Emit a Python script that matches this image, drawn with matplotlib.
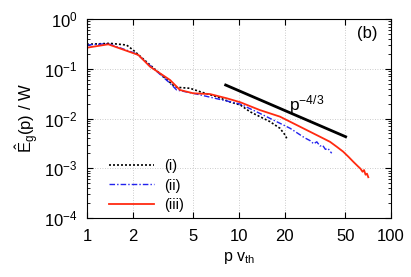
import matplotlib
matplotlib.use("Agg")
import matplotlib.pyplot as plt
from matplotlib.ticker import FixedLocator, LogLocator, NullFormatter

plt.rcParams['font.family'] = ['Liberation Sans', 'DejaVu Sans']
plt.rcParams['mathtext.fontset'] = 'custom'
plt.rcParams['mathtext.rm'] = 'Liberation Sans'
plt.rcParams['mathtext.it'] = 'Liberation Sans:italic'
plt.rcParams['mathtext.bf'] = 'Liberation Sans:bold'

# (i) black dotted
x_i = [1.0, 1.42, 1.82, 2.01, 2.6, 3.68, 3.89, 4.76, 5.54, 7.13, 8.73, 10.2, 11.8, 16.0, 18.6, 20.1, 20.6]
y_i = [0.31, 0.324, 0.30, 0.238, 0.119, 0.047, 0.0424, 0.0405, 0.0346, 0.0274, 0.0215, 0.0187, 0.0137, 0.00863, 0.00635, 0.00466, 0.0040]
# (ii) blue dash-dot
x_ii = [1.0, 1.38, 2.12, 2.8, 3.52, 3.89, 5.0, 8.3, 10.2, 13.7, 21.7, 27.0, 29.3, 31.0, 32.5, 34.1, 35.5, 37.0, 38.5, 40.7]
y_ii = [0.30, 0.32, 0.20, 0.095, 0.051, 0.0374, 0.0321, 0.0225, 0.0195, 0.0127, 0.00635, 0.0041, 0.0036, 0.0031, 0.0034, 0.0028, 0.0029, 0.0024, 0.0025, 0.0020]
# (iii) red solid
x_iii = [1.0, 1.38, 2.18, 2.6, 3.52, 4.09, 5.0, 6.44, 8.3, 10.2, 13.7, 18.6, 25.2, 34.1, 39.7, 44.0, 48.5, 52.5, 56.5, 60.5, 63.0, 65.0, 66.5, 68.0, 69.5, 70.9]
y_iii = [0.265, 0.31, 0.189, 0.11, 0.0594, 0.0374, 0.0321, 0.031, 0.0255, 0.0212, 0.0148, 0.0109, 0.00684, 0.0043, 0.0034, 0.0027, 0.00215, 0.0017, 0.00135, 0.0011, 0.00098, 0.00085, 0.00092, 0.00074, 0.00078, 0.00066]
# power-law guide p^-4/3
x_pl = [8.17, 50.3]
y_pl = [0.0471, 0.0043]

xticks = [1, 2, 5, 10, 20, 50, 100]
xticklabels = ['1', '2', '5', '10', '20', '50', '100']
yticks = [1e-4, 1e-3, 1e-2, 1e-1, 1e0]
yticklabels = [r'$10^{-4}$', r'$10^{-3}$', r'$10^{-2}$', r'$10^{-1}$', r'$10^{0}$']
labels = ['(i)', '(ii)', '(iii)']

fig = plt.figure(figsize=(4.11, 2.77), dpi=100)
ax = fig.add_axes([87/411, 1-218/277, (391-87)/411, (218-19)/277])
ax.set_xscale('log')
ax.set_yscale('log')
ax.set_xlim(1, 100)
ax.set_ylim(1e-4, 1)

ax.plot(x_i, y_i, color='black', linestyle=(0, (1.2, 1.2)), lw=1.2, label=labels[0])
ax.plot(x_ii, y_ii, color='#2222ee', linestyle=(0, (4, 1.5, 1, 1.5)), lw=1.0, label=labels[1])
ax.plot(x_iii, y_iii, color='#ff2a10', linestyle='-', lw=1.3, label=labels[2])
ax.plot(x_pl, y_pl, color='black', lw=2.0)

ax.text(21.3, 0.0148, r'p$^{-4/3}$', fontsize=12.5, va='baseline')
ax.text(0.921, 0.925, '(b)', transform=ax.transAxes, ha='center', va='center', fontsize=12)

ax.xaxis.set_major_locator(FixedLocator(xticks))
ax.set_xticks(xticks)
ax.set_xticklabels(xticklabels, fontsize=12)
ax.xaxis.set_minor_locator(FixedLocator([]))
ax.set_yticks(yticks)
ax.set_yticklabels(yticklabels, fontsize=12)
ax.yaxis.set_minor_locator(LogLocator(base=10, subs=range(2, 10), numticks=20))
ax.yaxis.set_minor_formatter(NullFormatter())

ax.tick_params(which='both', direction='in', top=True, right=True)
ax.tick_params(which='major', length=4, width=0.8)
ax.tick_params(axis='x', which='major', pad=8)
ax.tick_params(axis='y', which='major', pad=7)
ax.tick_params(which='minor', length=2, width=0.6)

ax.grid(True, which='major', color='#bbbbbb', linestyle=(0, (1, 2)), lw=0.6)

ax.set_xlabel(r'p v$_{\rm th}$', fontsize=11.5, labelpad=4)
ax.set_ylabel(r'$\hat{\rm E}_{\rm g}$(p) / W', fontsize=12, labelpad=2)

leg = ax.legend(loc='lower left', bbox_to_anchor=(0.028, -0.035), frameon=False, fontsize=10.5,
                handlelength=3.1, handletextpad=0.7, labelspacing=0.36, borderaxespad=0.5)

fig.savefig('out.png', dpi=100)
